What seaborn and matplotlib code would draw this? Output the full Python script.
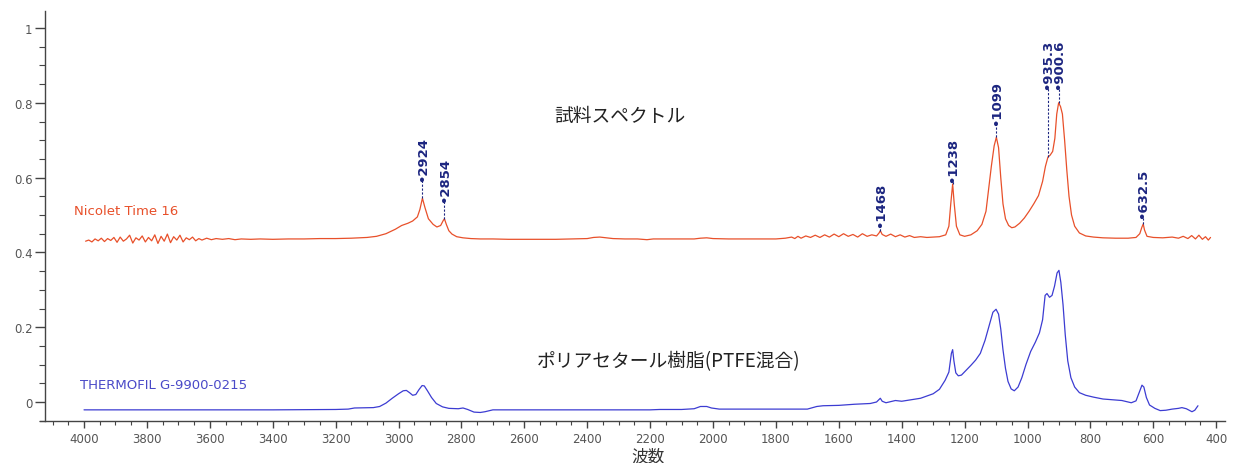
import numpy as np
import pandas as pd
import matplotlib
matplotlib.use("Agg")
import matplotlib.pyplot as plt
from matplotlib.ticker import MultipleLocator, FixedLocator
import seaborn as sns

# ---------------- data ----------------
sample_wn = [3995, 3985, 3975, 3965, 3955, 3945, 3935, 3925, 3915, 3905, 3895, 3885, 3875, 3865,
             3855, 3845, 3835, 3825, 3815, 3805, 3795, 3785, 3775, 3765, 3755, 3745, 3735, 3725,
             3715, 3705, 3695, 3685, 3675, 3665, 3655, 3645, 3635, 3625, 3610, 3595, 3580, 3560,
             3540, 3520, 3500, 3470, 3440, 3400, 3350, 3300, 3250, 3200, 3150, 3100, 3070, 3040,
             3010, 2990, 2970, 2955, 2940, 2932, 2924, 2916, 2905, 2890, 2878, 2866, 2858, 2854,
             2848, 2840, 2830, 2815, 2795, 2770, 2740, 2700, 2650, 2600, 2550, 2500, 2450, 2400,
             2380, 2360, 2340, 2318, 2280, 2240, 2210, 2190, 2150, 2100, 2060, 2040, 2020, 2000,
             1950, 1900, 1850, 1800, 1770, 1750, 1740, 1730, 1720, 1705, 1690, 1675, 1660, 1645,
             1630, 1615, 1600, 1585, 1570, 1555, 1540, 1525, 1510, 1495, 1480, 1472, 1468, 1462,
             1450, 1435, 1420, 1405, 1390, 1375, 1360, 1340, 1320, 1300, 1280, 1260, 1250, 1244,
             1238, 1233, 1226, 1215, 1200, 1180, 1160, 1145, 1132, 1125, 1115, 1106, 1099, 1092,
             1085, 1078, 1070, 1060, 1050, 1040, 1025, 1010, 995, 980, 965, 952, 943, 935, 928,
             920, 913, 907, 901, 895, 889, 882, 875, 868, 860, 850, 835, 815, 790, 760, 720, 680,
             655, 643, 636, 632, 628, 620, 600, 570, 540, 520, 505, 490, 478, 466, 455, 444, 434,
             425, 418]
sample_abs = [0.430, 0.433, 0.428, 0.436, 0.431, 0.438, 0.429, 0.437, 0.432, 0.440, 0.427, 0.441,
              0.430, 0.436, 0.446, 0.425, 0.439, 0.433, 0.444, 0.428, 0.440, 0.431, 0.447, 0.424,
              0.443, 0.430, 0.449, 0.426, 0.442, 0.433, 0.446, 0.428, 0.439, 0.434, 0.441, 0.431,
              0.437, 0.433, 0.438, 0.434, 0.437, 0.435, 0.437, 0.434, 0.436, 0.435, 0.436, 0.435,
              0.436, 0.436, 0.437, 0.437, 0.438, 0.440, 0.443, 0.450, 0.462, 0.472, 0.478, 0.484,
              0.495, 0.515, 0.545, 0.520, 0.490, 0.475, 0.468, 0.472, 0.485, 0.490, 0.475, 0.458,
              0.449, 0.442, 0.439, 0.437, 0.436, 0.436, 0.435, 0.435, 0.435, 0.435, 0.436, 0.437,
              0.440, 0.441, 0.439, 0.437, 0.436, 0.436, 0.434, 0.436, 0.436, 0.436, 0.436, 0.438,
              0.439, 0.437, 0.436, 0.436, 0.436, 0.436, 0.438, 0.441, 0.437, 0.443, 0.438, 0.444,
              0.440, 0.446, 0.440, 0.447, 0.441, 0.449, 0.442, 0.450, 0.443, 0.448, 0.441, 0.450,
              0.443, 0.447, 0.444, 0.452, 0.458, 0.448, 0.443, 0.449, 0.442, 0.447, 0.441, 0.445,
              0.440, 0.442, 0.440, 0.441, 0.442, 0.447, 0.470, 0.530, 0.583, 0.530, 0.470, 0.447,
              0.443, 0.447, 0.458, 0.475, 0.510, 0.560, 0.630, 0.685, 0.708, 0.680, 0.600, 0.530,
              0.490, 0.472, 0.466, 0.468, 0.478, 0.492, 0.510, 0.530, 0.552, 0.590, 0.630, 0.655,
              0.660, 0.670, 0.705, 0.770, 0.800, 0.790, 0.770, 0.700, 0.620, 0.550, 0.500, 0.470,
              0.452, 0.444, 0.441, 0.439, 0.438, 0.438, 0.440, 0.450, 0.468, 0.476, 0.460, 0.443,
              0.440, 0.439, 0.441, 0.438, 0.443, 0.437, 0.445, 0.436, 0.446, 0.435, 0.442, 0.433,
              0.440]

ref_wn = [4000, 3800, 3600, 3400, 3200, 3160, 3140, 3080, 3060, 3040, 3020, 3000, 2985, 2975,
          2965, 2955, 2945, 2935, 2925, 2918, 2908, 2895, 2880, 2860, 2840, 2810, 2795, 2780,
          2760, 2740, 2725, 2700, 2600, 2400, 2300, 2200, 2170, 2100, 2060, 2040, 2020, 2005,
          1980, 1900, 1800, 1700, 1670, 1650, 1600, 1550, 1500, 1480, 1468, 1462, 1450, 1420,
          1400, 1370, 1340, 1320, 1300, 1280, 1262, 1250, 1242, 1238, 1234, 1228, 1220, 1210,
          1195, 1180, 1165, 1150, 1135, 1120, 1110, 1100, 1092, 1085, 1078, 1070, 1062, 1052,
          1042, 1030, 1018, 1005, 990, 975, 962, 952, 944, 938, 930, 922, 914, 906, 900, 894,
          887, 880, 872, 862, 850, 835, 815, 790, 760, 730, 700, 670, 655, 645, 636, 630, 622,
          612, 595, 578, 560, 540, 520, 509, 495, 477, 468, 458]
ref_abs = [-0.021, -0.021, -0.021, -0.021, -0.020, -0.019, -0.016, -0.015, -0.012, -0.003, 0.010,
           0.022, 0.030, 0.031, 0.025, 0.018, 0.020, 0.033, 0.044, 0.043, 0.030, 0.012, -0.004,
           -0.013, -0.017, -0.018, -0.016, -0.020, -0.027, -0.028, -0.026, -0.021, -0.021, -0.021,
           -0.021, -0.021, -0.020, -0.020, -0.018, -0.012, -0.012, -0.016, -0.019, -0.019, -0.019,
           -0.019, -0.012, -0.010, -0.009, -0.006, -0.004, 0.000, 0.010, 0.002, -0.002, 0.004,
           0.002, 0.006, 0.010, 0.016, 0.022, 0.034, 0.058, 0.080, 0.130, 0.140, 0.110, 0.078,
           0.070, 0.072, 0.085, 0.098, 0.112, 0.130, 0.165, 0.210, 0.240, 0.248, 0.235, 0.195,
           0.140, 0.090, 0.055, 0.035, 0.030, 0.040, 0.065, 0.100, 0.135, 0.160, 0.185, 0.220,
           0.285, 0.290, 0.280, 0.285, 0.310, 0.345, 0.352, 0.320, 0.260, 0.180, 0.110, 0.065,
           0.040, 0.025, 0.018, 0.013, 0.008, 0.006, 0.004, -0.002, 0.003, 0.025, 0.045, 0.040,
           0.012, -0.008, -0.017, -0.023, -0.022, -0.019, -0.017, -0.015, -0.018, -0.026, -0.022,
           -0.010]

# peak labels: text, wavenumber, peak value, label bottom value
peak_labels = ["2924", "2854", "1468", "1238", "1099", "935.3", "900.6", "632.5"]
peak_wn = [2924, 2854, 1468, 1238, 1099, 935.3, 900.6, 632.5]
peak_val = [0.545, 0.490, 0.458, 0.583, 0.708, 0.655, 0.800, 0.476]
label_base = [0.595, 0.540, 0.472, 0.592, 0.745, 0.842, 0.842, 0.495]

x_ticks = list(range(4000, 399, -200))
y_ticks = [0, 0.2, 0.4, 0.6, 0.8, 1.0]
y_tick_labels = ["0", "0.2", "0.4", "0.6", "0.8", "1"]

sample_name = "Nicolet Time 16"
ref_name = "THERMOFIL G-9900-0215"
sample_title = "試料スペクトル"
ref_title = "ポリアセタール樹脂(PTFE混合)"
x_label = "波数"

# ---------------- plot ----------------
sns.set_style("ticks")
plt.rcParams['font.family'] = ['DejaVu Sans', 'Noto Sans CJK JP']

W, H = 1233, 464
fig = plt.figure(figsize=(W / 100, H / 100), dpi=100)
ax = fig.add_axes([40 / W, 1 - 422 / H, 1185 / W, 410 / H])

df_s = pd.DataFrame({"wn": sample_wn, "abs": sample_abs})
df_r = pd.DataFrame({"wn": ref_wn, "abs": ref_abs})
red = "#e8502a"
blue = "#3c3cd2"
sns.lineplot(data=df_s, x="wn", y="abs", sort=False, estimator=None, color=red, lw=0.9, ax=ax)
sns.lineplot(data=df_r, x="wn", y="abs", sort=False, estimator=None, color=blue, lw=0.9, ax=ax)

ax.set_xlim(4140, 372)
ax.set_ylim(-0.0508, 1.0455)

navy = "#1c2580"
for lab, wn, pv, lb in zip(peak_labels, peak_wn, peak_val, label_base):
    ax.plot([wn, wn], [pv, lb], ls=(0, (2, 1.5)), color=navy, lw=0.8)
    ax.text(wn, lb - 0.004, "•" + lab, rotation=90, ha="center", va="bottom",
            fontsize=9.5, color=navy, fontweight="semibold")

ax.text(4032, 0.512, sample_name, color=red, fontsize=9.5, ha="left", va="center")
ax.text(4013, 0.048, ref_name, color="#4a4ac8", fontsize=9.5, ha="left", va="center")

jp = ['Noto Sans CJK JP', 'DejaVu Sans']
ax.text(2296, 0.765, sample_title, fontsize=13.5, ha="center", va="center", color="#222222", family=jp)
ax.text(2140, 0.110, ref_title, fontsize=13.5, ha="center", va="center", color="#222222", family=jp)
fig.text(648 / W, 1 - 457 / H, x_label, fontsize=12, ha="center", va="center", color="#333333", family=jp)

ax.set_xlabel("")
ax.set_ylabel("")
ax.xaxis.set_major_locator(FixedLocator(x_ticks))
ax.xaxis.set_minor_locator(MultipleLocator(50))
ax.set_xticklabels([str(t) for t in x_ticks])
ax.yaxis.set_major_locator(FixedLocator(y_ticks))
ax.yaxis.set_minor_locator(MultipleLocator(0.05))
ax.set_yticklabels(y_tick_labels)

spine_c = "#444444"
for s in ["top", "right"]:
    ax.spines[s].set_visible(False)
for s in ["left", "bottom"]:
    ax.spines[s].set_color(spine_c)
    ax.spines[s].set_linewidth(1.0)
ax.spines["left"].set_position(("data", 4124))

ax.tick_params(axis="x", which="major", length=5, width=1, color=spine_c,
               labelsize=8.5, labelcolor="#555555", pad=3)
ax.tick_params(axis="x", which="minor", length=3, width=0.8, color=spine_c)
ax.tick_params(axis="y", which="major", length=7, width=1, color=spine_c,
               labelsize=8.5, labelcolor="#555555", pad=2)
ax.tick_params(axis="y", which="minor", length=4, width=0.8, color=spine_c)

fig.savefig("out.png", dpi=100)
